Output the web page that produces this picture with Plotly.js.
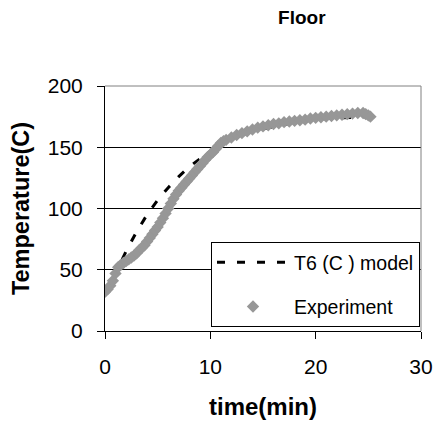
<!DOCTYPE html>
<html>
<head>
<meta charset="utf-8">
<script src="https://cdn.plot.ly/plotly-3.0.1.min.js"></script>
<style>html,body{margin:0;padding:0;background:#fff;}#chart{width:435px;height:425px;}</style>
</head>
<body>
<div id="chart"></div>
<script>
// Experiment (time in min, temperature in C)
var expTime = [0,0.25,0.5,0.75,1.0,1.25,1.5,1.75,2.0,2.25,2.5,2.75,3.0,3.25,3.5,3.75,4.0,4.25,4.5,4.75,5.0,5.25,5.5,5.75,6.0,6.25,6.5,6.75,7.0,7.25,7.5,7.75,8.0,8.25,8.5,8.75,9.0,9.25,9.5,9.75,10.0,10.25,10.5,10.75,11.0,11.25,11.5,12,12.5,13,13.5,14,14.5,15,15.5,16,16.5,17,17.5,18,18.5,19,19.5,20,20.5,21,21.5,22,22.5,23,23.5,24,24.5,24.75,25,25.2];
var expTemp = [32,34,37,41,47,52,54,55.5,57,58.5,60,61.5,63.5,66,68,70,73,76,79,82,85,88.5,92,96,100,104,108,111.5,114.5,117,119.5,122,124.5,127,129.5,132,134.5,137,139.5,142,144,146,148.5,151,153.5,155,156,158,160,161.5,163,164.5,166,167,168,169,169.5,170.5,171,171.5,172,172.5,173.5,174,174.5,175,175.5,176,176.5,177,177.5,178,178,177,176,175];
// T6 (C) model
var modelTime = [0,0.5,1,2,3,4,5,6,7,8,9,10,11,12,13,14,15,16,17,18,19,20,21,22,23,24,25];
var modelTemp = [29,38,48,65,81,95,107,117,126,134,140.5,147,153,157,160,163,165,167,168.5,170,171.5,173,173.5,174,174,174.5,175];

var xTicks = [0,10,20,30];
var yTicks = [0,50,100,150,200];

var fontFam = 'Arial, "Liberation Sans", sans-serif';

var traces = [
  {x: modelTime, y: modelTemp, type: 'scatter', mode: 'lines', name: 'T6 (C ) model',
   line: {color: '#000000', width: 3, dash: '8px,12px'}, legendgroup: 'a'},
  {x: expTime, y: expTemp, type: 'scatter', mode: 'markers', name: 'Experiment',
   marker: {color: '#979797', symbol: 'diamond', size: 9.5, line: {width: 0}}, legendgroup: 'b'}
];

var layout = {
  width: 435, height: 425,
  margin: {l: 105, r: 14, t: 86, b: 94, pad: 0},
  paper_bgcolor: '#ffffff', plot_bgcolor: '#ffffff',
  font: {family: fontFam, color: '#000000'},
  title: {text: '<b>Floor</b>', font: {size: 19, family: fontFam, color: '#000'},
          x: 271/435, xanchor: 'center', xref: 'paper', y: 1 - 17/425, yanchor: 'middle', yref: 'container'},
  xaxis: {range: [0, 30], tickvals: xTicks, ticktext: xTicks.map(String), showgrid: false, zeroline: false,
          showline: true, linecolor: '#000', linewidth: 1, ticks: 'outside', ticklen: 7, tickcolor: '#000',
          tickfont: {size: 21, family: fontFam}, ticklabelstandoff: 10,
          title: {text: '<b>time(min)</b>', font: {size: 24, family: fontFam}, standoff: 20}},
  yaxis: {range: [0, 200], tickvals: yTicks, ticktext: yTicks.map(String), showgrid: true, gridcolor: '#000', gridwidth: 1,
          zeroline: false, showline: true, linecolor: '#000', linewidth: 1, ticks: 'outside', ticklen: 7, tickcolor: '#000',
          tickfont: {size: 21, family: fontFam}, ticklabelstandoff: 10,
          title: {text: '<b>Temperature(C)</b>', font: {size: 23.5, family: fontFam}, standoff: 11}},
  showlegend: true,
  legend: {x: (211-105)/316, xanchor: 'left', y: (331-242)/245, yanchor: 'top',
           bgcolor: '#ffffff', bordercolor: '#000', borderwidth: 1,
           font: {size: 19.5, family: fontFam}, traceorder: 'grouped', tracegroupgap: 16, itemwidth: 72},
  shapes: [
    {type: 'line', xref: 'paper', yref: 'paper', x0: 0, x1: 1, y0: 1, y1: 1, line: {color: '#808080', width: 1}, layer: 'above'},
    {type: 'line', xref: 'paper', yref: 'paper', x0: 1, x1: 1, y0: 0, y1: 1, line: {color: '#808080', width: 1}, layer: 'above'}
  ]
};

Plotly.newPlot('chart', traces, layout, {staticPlot: true, displayModeBar: false});
</script>
</body>
</html>
